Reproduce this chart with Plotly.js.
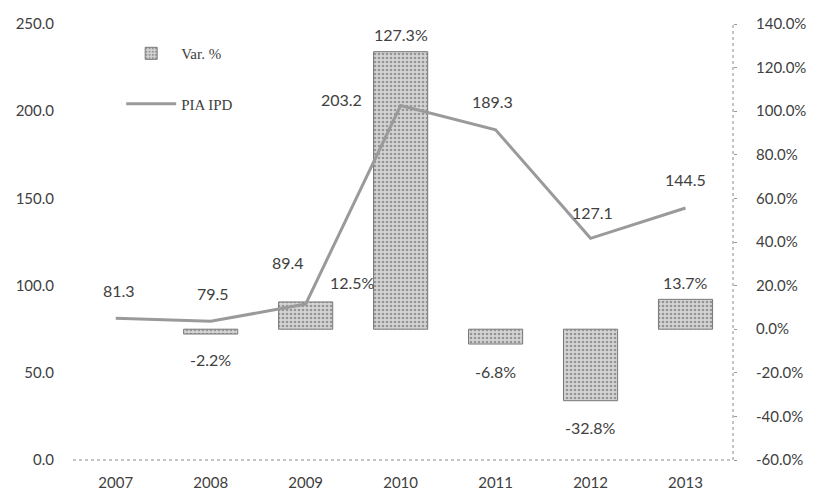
<!DOCTYPE html>
<html>
<head>
<meta charset="utf-8">
<script src="https://cdn.plot.ly/plotly-3.0.1.min.js"></script>
<style>html,body{margin:0;padding:0;background:#fff;}#chart{width:815px;height:493px;}</style>
</head>
<body>
<div id="chart"></div>
<script>
// ---- data ----
var years = ['2007', '2008', '2009', '2010', '2011', '2012', '2013'];
var piaIpd = [81.3, 79.5, 89.4, 203.2, 189.3, 127.1, 144.5];
var varPct = [null, -2.2, 12.5, 127.3, -6.8, -32.8, 13.7];
var leftTicks = [0, 50, 100, 150, 200, 250];
var rightTicks = [-60, -40, -20, 0, 20, 40, 60, 80, 100, 120, 140];

// label offsets in pixels (placement only)
var lineLabelDx = [3, 2, -18, -59, -3, 2, 0];
var lineLabelDy = [28, 28, 42, 6, 28, 26, 28];
var barLabelDx = [0, 0, 47, 0, 0, 0, 0];
var barLabelDy = [0, -25, 19, 17, -27, -27, 17];

function labelFont() {
  return {family: 'Lato, "Open Sans", sans-serif', size: 16, color: '#404040'};
}

var traces = [
  {
    type: 'bar', name: 'Var. %', x: years, y: varPct, yaxis: 'y',
    width: 0.57, legendgroup: 'a',
    marker: {
      color: '#c8c8c8',
      line: {color: '#777', width: 1},
      pattern: {shape: '.', fgcolor: '#555', bgcolor: '#d4d4d4', size: 4, solidity: 0.35, fillmode: 'overlay'}
    },
    hoverinfo: 'skip'
  },
  {
    type: 'scatter', mode: 'lines', name: 'PIA IPD', x: years, y: piaIpd, yaxis: 'y2',
    legendgroup: 'b',
    line: {color: '#9a9a9a', width: 3},
    hoverinfo: 'skip'
  }
];

var annotations = [];
for (var i = 0; i < years.length; i++) {
  annotations.push({
    x: i, y: piaIpd[i], xref: 'x', yref: 'y2', text: piaIpd[i].toFixed(1),
    showarrow: false, xshift: lineLabelDx[i], yshift: lineLabelDy[i], font: labelFont()
  });
  if (varPct[i] !== null) {
    annotations.push({
      x: i, y: varPct[i], xref: 'x', yref: 'y', text: varPct[i].toFixed(1) + '%',
      showarrow: false, xshift: barLabelDx[i], yshift: barLabelDy[i], font: labelFont()
    });
  }
}

var tickFont = {family: 'Lato, "Open Sans", sans-serif', size: 15, color: '#404040'};

var layout = {
  width: 815, height: 493,
  margin: {l: 73, r: 82, t: 24, b: 33, pad: 0},
  paper_bgcolor: '#fff', plot_bgcolor: 'rgba(0,0,0,0)',
  showlegend: true,
  legend: {
    x: 0.073, y: 0.97, xanchor: 'left', yanchor: 'top',
    bgcolor: 'rgba(0,0,0,0)', traceorder: 'grouped', tracegroupgap: 28,
    itemwidth: 50,
    font: {family: '"Liberation Serif", "DejaVu Serif", serif', size: 15, color: '#404040'}
  },
  xaxis: {
    type: 'category', range: [-0.45, 6.5], showgrid: false, zeroline: false,
    showline: false, ticks: '', tickfont: tickFont, ticklabelstandoff: 12
  },
  yaxis: {
    side: 'right', range: [-60, 140], tickvals: rightTicks,
    ticktext: rightTicks.map(function (v) { return v.toFixed(1) + '%'; }),
    showgrid: false, zeroline: false, showline: false,
    ticks: 'outside', ticklen: 3, tickcolor: '#999', tickfont: tickFont,
    ticklabelstandoff: 16
  },
  yaxis2: {
    overlaying: 'y', side: 'left', range: [0, 250], tickvals: leftTicks,
    ticktext: leftTicks.map(function (v) { return v.toFixed(1); }),
    showgrid: false, zeroline: false, showline: false, ticks: '',
    tickfont: tickFont, ticklabelstandoff: 18
  },
  shapes: [
    {type: 'line', xref: 'paper', yref: 'paper', x0: 0, x1: 1, y0: 0, y1: 0,
     line: {color: '#8a8a8a', width: 1, dash: 'dot'}},
    {type: 'line', xref: 'paper', yref: 'paper', x0: 1, x1: 1, y0: 0, y1: 1,
     line: {color: '#8a8a8a', width: 1, dash: 'dot'}}
  ],
  annotations: annotations
};

Plotly.newPlot('chart', traces, layout, {staticPlot: true, displayModeBar: false});
</script>
</body>
</html>
